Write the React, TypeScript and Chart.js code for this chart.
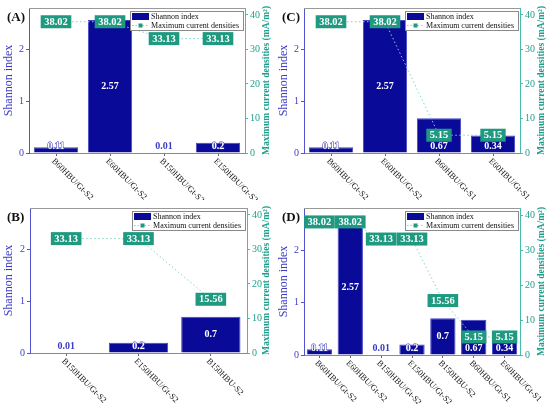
import React, { useEffect, useRef } from "react";
import { Chart, registerables } from "chart.js";
Chart.register(...registerables);

// ---- data ----
const labelsA = ["B60HBU/Gt-S2", "E60HBU/Gt-S2", "B150HBU/Gt-S2", "E150HBU/Gt-S2"];
const shannonA = [0.11, 2.57, 0.01, 0.2];
const currentA = [38.02, 38.02, 33.13, 33.13];

const labelsB = ["B150HBU/Gt-S2", "E150HBU/Gt-S2", "B150HBU-S2"];
const shannonB = [0.01, 0.2, 0.7];
const currentB = [33.13, 33.13, 15.56];

const labelsC = ["B60HBU/Gt-S2", "E60HBU/Gt-S2", "B60HBU/Gt-S1", "E60HBU/Gt-S1"];
const shannonC = [0.11, 2.57, 0.67, 0.34];
const currentC = [38.02, 38.02, 5.15, 5.15];

const labelsD = [
  "B60HBU/Gt-S2",
  "E60HBU/Gt-S2",
  "B150HBU/Gt-S2",
  "E150HBU/Gt-S2",
  "B150HBU-S2",
  "B60HBU/Gt-S1",
  "E60HBU/Gt-S1",
];
const shannonD = [0.11, 2.57, 0.01, 0.2, 0.7, 0.67, 0.34];
const currentD = [38.02, 38.02, 33.13, 33.13, 15.56, 5.15, 5.15];

const shannonTicks = [0, 1, 2];
const currentTicks = [0, 10, 20, 30, 40];

const barName = "Shannon index";
const lineName = "Maximum current densities";
const rightTitle = "Maximum current densities (mA/m²)";

// ---- colours ----
const BAR = "#0a0a98";
const BAR_EDGE = "#4646c4";
const LEFT = "#5252d2";
const LEFT_TEXT = "#3c3cc4";
const TEAL_BOX = "#1f9a80";
const TEAL_LINE = "#86d2c6";
const RIGHT = "#47bcac";
const RIGHT_TEXT = "#1f9e8c";
const FONT = "'Liberation Serif', 'Times New Roman', serif";

interface PanelProps {
  tag: string;
  labels: string[];
  shannon: number[];
  current: number[];
  width: number;
  height: number;
  top: number;
  xHeight: number;
  leftW: number;
  rightW: number;
}

const overlayPlugin = (tag: string, labels: string[], shannon: number[], current: number[]) => ({
  id: "overlay" + tag,
  afterDatasetsDraw(chart: any) {
    const ctx = chart.ctx as CanvasRenderingContext2D;
    const barMeta = chart.getDatasetMeta(0);
    const lineMeta = chart.getDatasetMeta(1);
    ctx.save();

    // teal value boxes on the line points
    const boxY: number[] = [];
    lineMeta.data.forEach((pt: any, i: number) => {
      const txt = current[i].toFixed(2);
      ctx.font = `bold 10.5px ${FONT}`;
      const w = ctx.measureText(txt).width + 7;
      const h = 13;
      ctx.fillStyle = TEAL_BOX;
      ctx.fillRect(pt.x - w / 2, pt.y - h / 2, w, h);
      ctx.fillStyle = "#ffffff";
      ctx.textAlign = "center";
      ctx.textBaseline = "middle";
      ctx.fillText(txt, pt.x, pt.y + 0.5);
      boxY.push(pt.y);
    });

    // values on the bars
    barMeta.data.forEach((bar: any, i: number) => {
      const txt = String(shannon[i]);
      const hgt = bar.base - bar.y;
      let y = (bar.y + bar.base) / 2;
      if (hgt < 14 || Math.abs(boxY[i] - y) < 16) y = bar.base - 6;
      ctx.font = `bold 10px ${FONT}`;
      ctx.textAlign = "center";
      ctx.textBaseline = "middle";
      if (hgt < 2) {
        ctx.fillStyle = LEFT_TEXT;
        ctx.fillText(txt, bar.x, y);
      } else {
        if (hgt < 11) {
          ctx.strokeStyle = "#3030b0";
          ctx.lineWidth = 1;
          ctx.strokeText(txt, bar.x, y);
        }
        ctx.fillStyle = "#ffffff";
        ctx.fillText(txt, bar.x, y);
      }
    });
    ctx.restore();
  },
  afterDraw(chart: any) {
    const ctx = chart.ctx as CanvasRenderingContext2D;
    const area = chart.chartArea;
    const xScale = chart.scales.x;
    ctx.save();

    // top frame
    ctx.strokeStyle = "#9a9a9a";
    ctx.lineWidth = 1;
    ctx.beginPath();
    ctx.moveTo(area.left, area.top + 0.5);
    ctx.lineTo(area.right, area.top + 0.5);
    ctx.stroke();

    // rotated category labels
    ctx.fillStyle = "#111111";
    ctx.font = `8.5px ${FONT}`;
    ctx.textAlign = "left";
    ctx.textBaseline = "middle";
    labels.forEach((lab, i) => {
      const x = xScale.getPixelForTick(i);
      ctx.save();
      ctx.translate(x - 3, area.bottom + 7);
      ctx.rotate(Math.PI / 4);
      ctx.fillText(lab, 0, 0);
      ctx.restore();
    });

    // right axis title, reading upwards
    ctx.save();
    ctx.translate(chart.width - 8, (area.top + area.bottom) / 2);
    ctx.rotate(-Math.PI / 2);
    ctx.fillStyle = RIGHT_TEXT;
    ctx.font = `bold 9.5px ${FONT}`;
    ctx.textAlign = "center";
    ctx.textBaseline = "middle";
    ctx.fillText(rightTitle, 0, 0);
    ctx.restore();

    // panel tag
    ctx.fillStyle = "#111111";
    ctx.font = `bold 13px ${FONT}`;
    ctx.textAlign = "left";
    ctx.textBaseline = "middle";
    ctx.fillText(tag, 7, area.top + 10);

    // legend
    ctx.font = `8px ${FONT}`;
    const lw = Math.max(ctx.measureText(lineName).width, ctx.measureText(barName).width) + 25;
    const lh = 19;
    const lx = area.right - lw - 2;
    const ly = area.top + 3;
    ctx.fillStyle = "#ffffff";
    ctx.fillRect(lx, ly, lw, lh);
    ctx.strokeStyle = "#8a8a8a";
    ctx.strokeRect(lx + 0.5, ly + 0.5, lw, lh);
    ctx.fillStyle = BAR;
    ctx.fillRect(lx + 2, ly + 2, 17, 7);
    ctx.strokeStyle = TEAL_LINE;
    ctx.setLineDash([1.5, 2]);
    ctx.beginPath();
    ctx.moveTo(lx + 2, ly + 14.5);
    ctx.lineTo(lx + 19, ly + 14.5);
    ctx.stroke();
    ctx.setLineDash([]);
    ctx.fillStyle = TEAL_BOX;
    ctx.fillRect(lx + 8.5, ly + 12.5, 4, 4);
    ctx.fillStyle = "#111111";
    ctx.textBaseline = "middle";
    ctx.fillText(barName, lx + 21, ly + 5.5);
    ctx.fillText(lineName, lx + 21, ly + 14.5);

    ctx.restore();
  },
});

function Panel(props: PanelProps) {
  const canvasRef = useRef<HTMLCanvasElement | null>(null);
  const chartRef = useRef<Chart | null>(null);

  useEffect(() => {
    if (!canvasRef.current) return;
    const ctx = canvasRef.current.getContext("2d");
    if (!ctx) return;
    if (chartRef.current) chartRef.current.destroy();

    chartRef.current = new Chart(ctx, {
      type: "bar",
      data: {
        labels: props.labels,
        datasets: [
          {
            type: "bar",
            label: barName,
            data: props.shannon,
            backgroundColor: BAR,
            borderColor: BAR_EDGE,
            borderWidth: 1,
            barPercentage: 0.82,
            categoryPercentage: 1,
            yAxisID: "y",
            order: 2,
          },
          {
            type: "line",
            label: lineName,
            data: props.current,
            borderColor: TEAL_LINE,
            borderWidth: 1,
            borderDash: [1.5, 2.5],
            pointRadius: 0,
            fill: false,
            yAxisID: "y1",
            order: 1,
          } as any,
        ],
      },
      options: {
        responsive: true,
        maintainAspectRatio: false,
        animation: false,
        layout: { padding: { top: props.top, left: 0, right: 0, bottom: 0 } },
        plugins: {
          legend: { display: false },
          tooltip: { enabled: false },
        },
        scales: {
          x: {
            offset: true,
            ticks: { display: false },
            grid: {
              display: true,
              drawOnChartArea: false,
              drawTicks: true,
              tickLength: 3,
              offset: false,
              color: "#666666",
            },
            border: { display: true, color: "#8a8a8a" },
            afterFit: (s: any) => {
              s.height = props.xHeight;
            },
          },
          y: {
            position: "left",
            min: 0,
            max: 2.8,
            afterBuildTicks: (s: any) => {
              s.ticks = shannonTicks.map((v) => ({ value: v }));
            },
            ticks: {
              color: LEFT_TEXT,
              font: { family: FONT, size: 10 },
              padding: 2,
            },
            grid: { drawOnChartArea: false, tickLength: 3, color: LEFT },
            border: { display: true, color: LEFT },
            title: {
              display: true,
              text: barName,
              color: LEFT_TEXT,
              font: { family: FONT, size: 12 },
              padding: 2,
            },
            afterFit: (s: any) => {
              s.width = props.leftW;
            },
          },
          y1: {
            position: "right",
            min: 0,
            max: 42,
            afterBuildTicks: (s: any) => {
              s.ticks = currentTicks.map((v) => ({ value: v }));
            },
            ticks: {
              color: RIGHT_TEXT,
              font: { family: FONT, size: 10 },
              padding: 2,
            },
            grid: { drawOnChartArea: false, tickLength: 3, color: RIGHT },
            border: { display: true, color: RIGHT },
            afterFit: (s: any) => {
              s.width = props.rightW;
            },
          },
        },
      },
      plugins: [overlayPlugin(props.tag, props.labels, props.shannon, props.current)],
    });

    return () => {
      if (chartRef.current) {
        chartRef.current.destroy();
        chartRef.current = null;
      }
    };
  }, []);

  return (
    <div style={{ position: "relative", width: props.width, height: props.height }}>
      <canvas ref={canvasRef}></canvas>
    </div>
  );
}

export default function App() {
  useEffect(() => {
    document.body.style.margin = "0";
    Chart.defaults.font.family = FONT;
  }, []);

  return (
    <div style={{ position: "relative", width: 550, height: 404, background: "#ffffff", overflow: "hidden" }}>
      <div style={{ position: "absolute", left: 0, top: 0 }}>
        <Panel tag="(A)" labels={labelsA} shannon={shannonA} current={currentA}
          width={275} height={200} top={4} xHeight={47} leftW={29} rightW={30} />
      </div>
      <div style={{ position: "absolute", left: 0, top: 200 }}>
        <Panel tag="(B)" labels={labelsB} shannon={shannonB} current={currentB}
          width={275} height={204} top={6} xHeight={51} leftW={30} rightW={28} />
      </div>
      <div style={{ position: "absolute", left: 275, top: 0 }}>
        <Panel tag="(C)" labels={labelsC} shannon={shannonC} current={currentC}
          width={275} height={200} top={4} xHeight={47} leftW={29} rightW={30} />
      </div>
      <div style={{ position: "absolute", left: 275, top: 200 }}>
        <Panel tag="(D)" labels={labelsD} shannon={shannonD} current={currentD}
          width={275} height={204} top={5} xHeight={49} leftW={29} rightW={30} />
      </div>
    </div>
  );
}
